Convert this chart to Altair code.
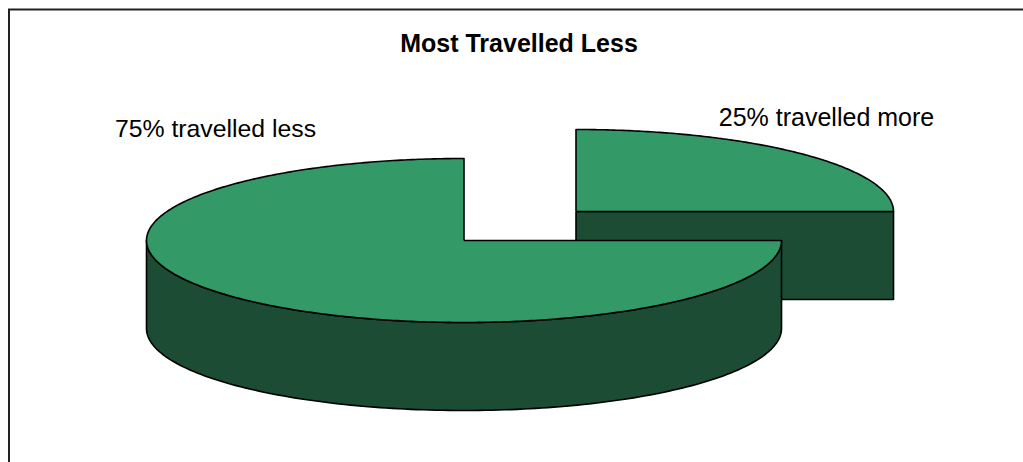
import numpy as np
import pandas as pd
import altair as alt

# Survey shares and their captions
labels = ["75% travelled less", "25% travelled more"]
shares = [75, 25]
title_text = "Most Travelled Less"

TOP_GREEN = "#339966"
SIDE_GREEN = "#1c4c33"
RX, RY, DEPTH = 317.5, 82, 88
CENTERS = [(464, 240.5), (576, 211.5)]   # the smaller slice is pulled out up and right


def ellipse(cx, cy, start, end, drop=0.0, n=160):
    """Points on the rim, angles in percent of the pie, clockwise from 12 o'clock."""
    t = np.radians(np.linspace(start, end, n) * 3.6)
    return list(zip(cx + RX * np.sin(t), cy - RY * np.cos(t) + drop))


def polygon(name, pts):
    return pd.DataFrame(
        {"part": name, "i": range(len(pts) + 1),
         "x": [p[0] for p in pts] + [pts[0][0]],
         "y": [p[1] for p in pts] + [pts[0][1]]}
    )


# Slices start where the previous one ends: small slice 0..25, large slice 25..100
small_pct, large_pct = shares[1], shares[0]
(cx_l, cy_l), (cx_s, cy_s) = CENTERS

small_front = polygon("small_front", [(cx_s, cy_s), (cx_s + RX, cy_s),
                                      (cx_s + RX, cy_s + DEPTH), (cx_s, cy_s + DEPTH)])
small_top = polygon("small_top", [(cx_s, cy_s)] + ellipse(cx_s, cy_s, 0, small_pct))
large_side = polygon("large_side", ellipse(cx_l, cy_l, small_pct, 75)
                     + ellipse(cx_l, cy_l, 75, small_pct, drop=DEPTH))
large_top = polygon("large_top", [(cx_l, cy_l)]
                    + ellipse(cx_l, cy_l, small_pct, small_pct + large_pct, n=400))

x_scale = alt.Scale(domain=[0, 1023], range=[0, 1023])
y_scale = alt.Scale(domain=[0, 462], range=[0, 462])


def face(df, color):
    return alt.Chart(df).mark_line(
        filled=True, fill=color, stroke="#000000", strokeWidth=1.6,
        strokeJoin="round", interpolate="linear",
    ).encode(
        x=alt.X("x:Q", scale=x_scale, axis=None),
        y=alt.Y("y:Q", scale=y_scale, axis=None),
        order="i:Q",
    )


frame = alt.Chart(pd.DataFrame({"a": [0]})).mark_rect(
    fill="white", stroke="#222222", strokeWidth=2
).encode(x=alt.value(9), x2=alt.value(1100), y=alt.value(9.5), y2=alt.value(520))


def caption(text, px, py, size, bold=False):
    return alt.Chart(pd.DataFrame({"t": [text]})).mark_text(
        font="Liberation Sans", fontSize=size, fontWeight="bold" if bold else "normal",
        align="center", baseline="alphabetic", color="#000000",
    ).encode(x=alt.value(px), y=alt.value(py), text="t:N")


chart = alt.layer(
    frame,
    face(small_front, SIDE_GREEN),
    face(small_top, TOP_GREEN),
    face(large_side, SIDE_GREEN),
    face(large_top, TOP_GREEN),
    caption(title_text, 519, 52, 25, bold=True),
    caption(labels[0], 215.5, 137, 24.8),
    caption(labels[1], 826.5, 126, 25),
).properties(
    width=1023, height=462, padding=0,
    autosize=alt.AutoSizeParams(type="none"),
).configure_view(stroke=None)

chart.save("out.html", embed_options={"renderer": "svg", "actions": False})
